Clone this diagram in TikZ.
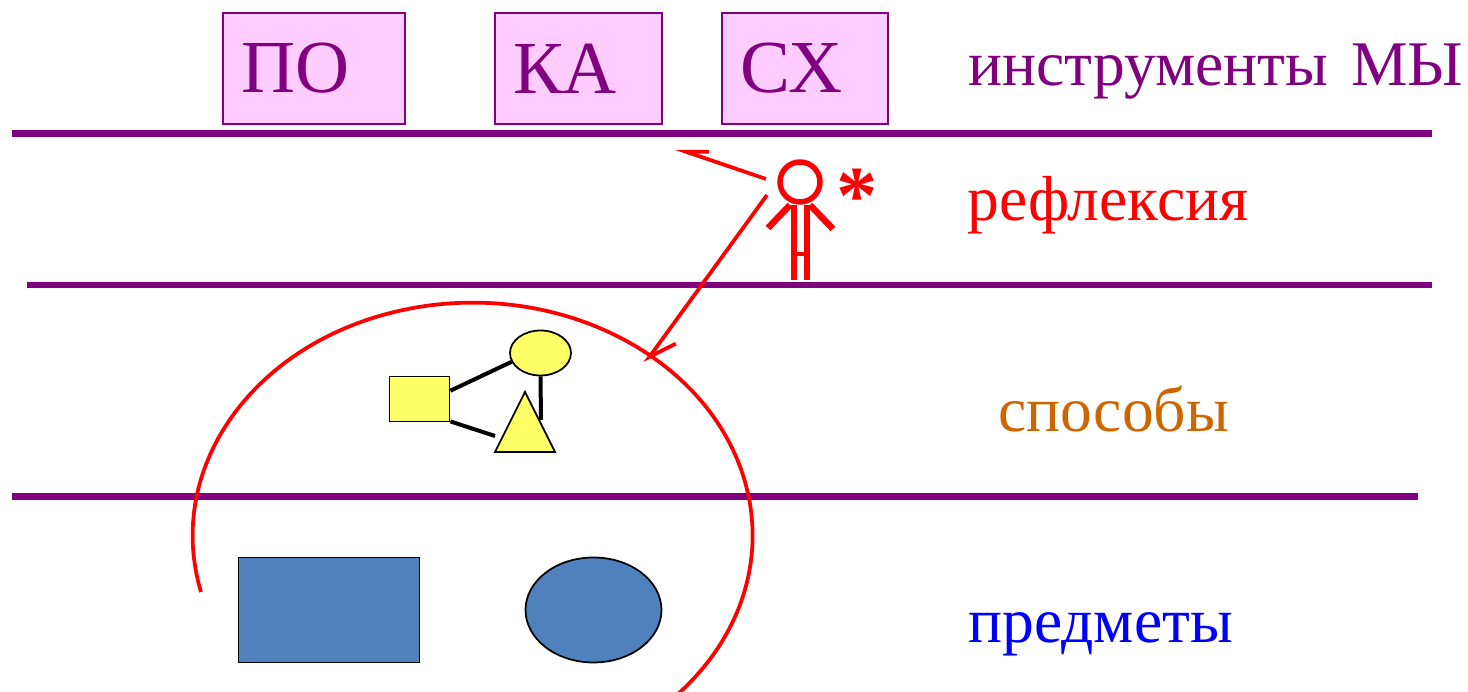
\documentclass[tikz,border=0pt]{standalone}
\usepackage{fontspec}
\setmainfont{Liberation Serif}
\usepackage{tikz}
\usetikzlibrary{shapes.geometric, arrows.meta}
\definecolor{mypurple}{RGB}{128,0,128}
\definecolor{myorange}{RGB}{204,102,0}
\definecolor{mypink}{RGB}{255,204,255}
\definecolor{myyellow}{RGB}{255,255,102}
\definecolor{myblue}{RGB}{79,129,189}
\tikzstyle{rule}   = [draw=mypurple, line width=0.13cm]
\tikzstyle{box}    = [draw=mypurple, fill=mypink, line width=0.04cm, minimum height=2.22cm, inner sep=0pt, inner xsep=0.36cm, align=left, font=\fontsize{42.6}{42.6}\selectfont, text=mypurple]
\tikzstyle{lab}    = [anchor=base west, inner sep=0pt, font=\fontsize{36.2}{36.2}\selectfont]
\tikzstyle{small}  = [draw=black, fill=myyellow, line width=0.035cm, inner sep=0pt]
\tikzstyle{big}    = [draw=black, fill=myblue, line width=0.035cm, inner sep=0pt]
\tikzstyle{link}   = [draw=black, line width=0.08cm]
\tikzstyle{man}    = [draw=red, line width=0.11cm]
\tikzstyle{ref}    = [draw=red, line width=0.075cm]

\begin{document}
\begin{tikzpicture}[x=0.02cm, y=0.02cm]
\useasboundingbox (0,0) rectangle (1468,692);

% nodes
\node [box, text width=2.92cm] at ( 314, 623.5) (po) {ПО};
\node [box, text width=2.62cm] at ( 578.5, 623.5) (ka) {КА};
\node [box, text width=2.6cm]  at ( 805, 623.5) (sx) {СХ};

\node [lab, text=mypurple] at ( 968, 606) (tools)   {инструменты\hspace{0.14cm} МЫ};
\node [lab, text=red]      at ( 967, 471) (reflex)  {рефлексия};
\node [lab, text=myorange] at ( 998, 260) (ways)    {способы};
\node [lab, text=blue]     at ( 968,  49) (objects) {предметы};

\node [small, minimum width=1.2cm, minimum height=0.9cm] at (419.5, 293) (square) {};
\node [small, ellipse, minimum width=1.22cm, minimum height=0.9cm] at (540.5, 339) (oval) {};
\node [small, isosceles triangle, isosceles triangle apex angle=53.13, shape border rotate=90, minimum height=1.2cm, anchor=apex] at (525, 302) (tri) {};

\node [big, minimum width=3.62cm, minimum height=2.1cm] at (329, 82) (block) {};
\node [big, ellipse, minimum width=2.72cm, minimum height=2.1cm] at (593.5, 82) (disc) {};

\node [man, circle, minimum size=0.8cm, inner sep=0pt] at (800, 510) (head) {};
\node [anchor=center, inner sep=0pt, text=red, font=\bfseries\fontsize{47}{47}\selectfont] at (857, 496) (star) {*};

% free ends
\coordinate (ruleAw) at (  12, 558.5);
\coordinate (ruleAe) at (1432, 558.5);
\coordinate (ruleBw) at (  27, 407);
\coordinate (ruleBe) at (1432, 407);
\coordinate (ruleCw) at (  12, 195.5);
\coordinate (ruleCe) at (1418, 195.5);

\coordinate (legL)  at (794, 487);
\coordinate (legLb) at (794, 412);
\coordinate (legR)  at (807, 487);
\coordinate (legRb) at (807, 412);
\coordinate (barL)  at (794, 438);
\coordinate (barR)  at (807, 438);
\coordinate (armL)  at (790, 487);
\coordinate (armLb) at (768, 464);
\coordinate (armR)  at (810, 487);
\coordinate (armRb) at (833, 463);

\coordinate (refA)  at (766, 513);
\coordinate (refAb) at (675, 544);
\coordinate (refB)  at (767, 497);
\coordinate (refBb) at (645, 329);

\coordinate (gap)   at (495, 256);
\coordinate (side)  at (541, 272);

% edges
\path [rule] (ruleAw) -- (ruleAe);
\path [rule] (ruleBw) -- (ruleBe);
\path [rule] (ruleCw) -- (ruleCe);

\path [link] (square.15) -- (oval.197);
\path [link] (square.-36) -- (gap);
\path [link] (oval.south) -- (side);

\path [man] (legL) -- (legLb);
\path [man] (legR) -- (legRb);
\path [man, line width=0.09cm] (barL) -- (barR);
\path [man, line width=0.13cm] (armL) -- (armLb);
\path [man, line width=0.13cm] (armR) -- (armRb);

\path [ref, -{Straight Barb[right, length=0.44cm, width=0.3cm]}] (refA) -- (refAb);
\path [ref, -{Straight Barb[left, length=0.52cm, width=0.54cm]}] (refB) -- (refBb);

\draw [ref] (201,100) arc [start angle=194, end angle=-43, x radius=5.6cm, y radius=4.66cm];

\end{tikzpicture}
\end{document}
